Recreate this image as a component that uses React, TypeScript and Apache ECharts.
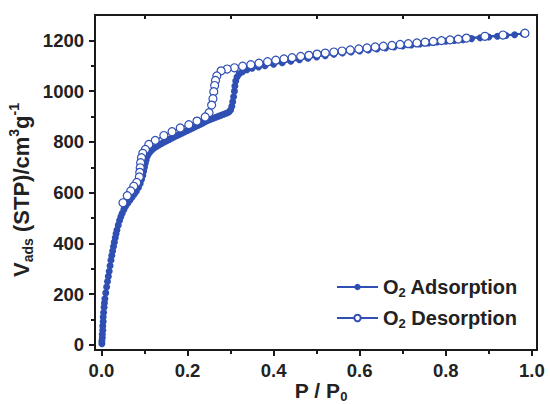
import React, { useEffect, useRef } from "react";
import * as echarts from "echarts";

const xTickLabels = [0, 0.2, 0.4, 0.6, 0.8, 1.0];
const xMinorTicks = [0.1, 0.3, 0.5, 0.7, 0.9];
const yTickLabels = [0, 200, 400, 600, 800, 1000, 1200];
const yMinorTicks = [100, 300, 500, 700, 900, 1100];

const adsorptionX = [
  0.001, 0.001, 0.002, 0.002, 0.003, 0.003, 0.004, 0.004, 0.005, 0.006, 0.007, 0.008,
  0.010, 0.012, 0.014, 0.016, 0.018, 0.020, 0.022, 0.024, 0.026, 0.028, 0.030, 0.032,
  0.034, 0.036, 0.039, 0.042, 0.045, 0.048, 0.052, 0.056, 0.061, 0.066, 0.071, 0.076,
  0.081, 0.086, 0.090, 0.093, 0.096, 0.098, 0.100, 0.102, 0.104, 0.107, 0.111, 0.116,
  0.122, 0.128, 0.134, 0.140, 0.146, 0.152, 0.158, 0.164, 0.170, 0.176, 0.182, 0.188,
  0.194, 0.200, 0.206, 0.212, 0.218, 0.224, 0.230, 0.236, 0.242, 0.248, 0.254, 0.260,
  0.266, 0.272, 0.278, 0.284, 0.290, 0.296, 0.300, 0.303, 0.305, 0.307, 0.309, 0.310,
  0.312, 0.315, 0.320, 0.328, 0.338, 0.350, 0.365, 0.380, 0.400, 0.420, 0.440, 0.460,
  0.480, 0.500, 0.520, 0.540, 0.560, 0.580, 0.600, 0.620, 0.640, 0.660, 0.680, 0.700,
  0.720, 0.740, 0.760, 0.780, 0.800, 0.820, 0.840, 0.860, 0.880, 0.900, 0.920, 0.940,
  0.960, 0.980,
];
const adsorptionY = [
  5, 15, 28, 42, 58, 75, 92, 110, 128, 148, 165, 182,
  205, 228, 250, 270, 290, 312, 334, 352, 370, 388, 405, 422,
  438, 453, 472, 490, 505, 518, 533, 546, 558, 570, 582, 594,
  606, 620, 636, 652, 668, 684, 700, 716, 730, 745, 756, 766,
  775, 782, 788, 794, 800, 805, 810, 815, 820, 825, 830, 835,
  840, 845, 850, 855, 860, 865, 870, 875, 880, 885, 889, 893,
  897, 901, 905, 909, 913, 918, 926, 940, 958, 978, 1000, 1020,
  1040, 1056, 1068, 1077, 1084, 1090, 1095, 1100, 1106, 1112, 1118, 1124,
  1130, 1135, 1140, 1145, 1150, 1154, 1158, 1162, 1166, 1170, 1174, 1178,
  1182, 1186, 1190, 1194, 1197, 1200, 1203, 1207, 1210, 1213, 1216, 1219,
  1222, 1226,
];

const desorptionX = [
  0.984, 0.933, 0.891, 0.848, 0.829, 0.810, 0.790, 0.771, 0.752, 0.733, 0.713, 0.694,
  0.675, 0.655, 0.636, 0.617, 0.598, 0.578, 0.559, 0.540, 0.520, 0.501, 0.482, 0.463,
  0.443, 0.424, 0.405, 0.386, 0.366, 0.347, 0.328, 0.309, 0.292, 0.278, 0.268, 0.265,
  0.263, 0.261, 0.259, 0.256, 0.250, 0.241, 0.222, 0.203, 0.183, 0.164, 0.145, 0.125,
  0.110, 0.102, 0.096, 0.093, 0.091, 0.090, 0.089, 0.088, 0.082, 0.075, 0.068, 0.060,
  0.050,
];
const desorptionY = [
  1228, 1221, 1216, 1209, 1205, 1202, 1199, 1196, 1193, 1190, 1187, 1184,
  1180, 1177, 1174, 1170, 1166, 1162, 1158, 1154, 1150, 1146, 1141, 1137,
  1132, 1127, 1122, 1116, 1110, 1104, 1098, 1092, 1087, 1080, 1060, 1042,
  1022, 998, 970, 945, 915, 898, 882, 868, 855, 840, 825, 806,
  790, 770, 755, 738, 718, 698, 680, 662, 640, 625, 607, 588,
  560,
];

const xTitle = "{b|P / P}{s|0}";
const yTitle = "{b|V}{s|ads}{b| (STP)/cm}{p|3}{b|g}{p|-1}";

const BLUE = "#2f4fb3";
const AXIS = "#1a1a1a";
const TXT = "#222";
const FONT = "'Liberation Sans', Arial, sans-serif";

export default function App() {
  const ref = useRef<HTMLDivElement>(null);
  useEffect(() => {
    if (!ref.current) return;
    const chart = echarts.init(ref.current, undefined, { renderer: "svg" });
    const ads = adsorptionX.map((x, i) => [x, adsorptionY[i]]);
    const des = desorptionX.map((x, i) => [x, desorptionY[i]]);
    const labelStyle = { fontFamily: FONT, fontWeight: "bold" as const, fontSize: 18.5, color: TXT };
    const xBase = { type: "value" as const, min: -0.015, max: 1.012, gridIndex: 0, splitLine: { show: false } };
    const yBase = { type: "value" as const, min: -20, max: 1300, gridIndex: 0, splitLine: { show: false } };
    const titleRich = {
      b: { fontFamily: FONT, fontWeight: "bold", fontSize: 22, fill: TXT, lineHeight: 28 },
      s: { fontFamily: FONT, fontWeight: "bold", fontSize: 14, fill: TXT, lineHeight: 11, verticalAlign: "bottom" },
      p: { fontFamily: FONT, fontWeight: "bold", fontSize: 14, fill: TXT, lineHeight: 11, verticalAlign: "top" },
    };
    chart.setOption({
      animation: false,
      backgroundColor: "#fff",
      grid: { left: 95, right: 13, top: 15, bottom: 54, show: true, borderColor: AXIS, borderWidth: 2, backgroundColor: "transparent", outerBoundsMode: "none" },
      graphic: [
        {
          type: "text",
          x: 21,
          y: 190,
          rotation: Math.PI / 2,
          style: { text: yTitle, align: "center", verticalAlign: "middle", rich: titleRich },
        },
        {
          type: "text",
          x: 321,
          y: 390,
          style: {
            text: xTitle,
            align: "center",
            verticalAlign: "middle",
            rich: {
              b: { fontFamily: FONT, fontWeight: "bold", fontSize: 21, fill: TXT, lineHeight: 26 },
              s: { fontFamily: FONT, fontWeight: "bold", fontSize: 13, fill: TXT, lineHeight: 10, verticalAlign: "bottom" },
            },
          },
        },
      ],
      xAxis: [
        {
          ...xBase,
          position: "bottom",
          axisLine: { show: true, onZero: false, lineStyle: { color: AXIS, width: 2 } },
          axisTick: { show: true, inside: false, length: 6, lineStyle: { color: AXIS, width: 2 }, customValues: xTickLabels },
          axisLabel: { ...labelStyle, margin: 11, customValues: xTickLabels, formatter: (v: number) => v.toFixed(1) },
        },
        {
          ...xBase,
          position: "bottom",
          axisLine: { show: false, onZero: false },
          axisTick: { show: true, inside: false, length: 4, lineStyle: { color: AXIS, width: 2 }, customValues: xMinorTicks },
          axisLabel: { show: false },
        },
        {
          ...xBase,
          position: "top",
          axisLine: { show: false, onZero: false },
          axisTick: { show: true, inside: true, length: 4, lineStyle: { color: AXIS, width: 2 }, customValues: xMinorTicks },
          axisLabel: { show: false },
        },
      ],
      yAxis: [
        {
          ...yBase,
          position: "left",
          axisLine: { show: true, onZero: false, lineStyle: { color: AXIS, width: 2 } },
          axisTick: { show: true, inside: false, length: 6, lineStyle: { color: AXIS, width: 2 }, customValues: yTickLabels },
          axisLabel: { ...labelStyle, margin: 11, customValues: yTickLabels, formatter: (v: number) => String(Math.round(v)) },
        },
        {
          ...yBase,
          position: "left",
          axisLine: { show: false, onZero: false },
          axisTick: { show: true, inside: false, length: 4, lineStyle: { color: AXIS, width: 2 }, customValues: yMinorTicks },
          axisLabel: { show: false },
        },
      ],
      legend: {
        orient: "vertical",
        left: 331,
        top: 272,
        itemWidth: 41,
        itemHeight: 8,
        itemGap: 9,
        data: ["O2 Adsorption", "O2 Desorption"],
        formatter: (name: string) => (name.startsWith("O2 A") ? "{b|O}{s|2}{b| Adsorption}" : "{b|O}{s|2}{b| Desorption}"),
        textStyle: {
          rich: {
            b: { fontFamily: FONT, fontWeight: "bold", fontSize: 20, color: TXT, lineHeight: 24 },
            s: { fontFamily: FONT, fontWeight: "bold", fontSize: 13, color: TXT, lineHeight: 9, verticalAlign: "bottom" },
          },
        },
      },
      series: [
        {
          name: "O2 Adsorption",
          type: "line",
          xAxisIndex: 0,
          yAxisIndex: 0,
          data: ads,
          symbol: "circle",
          symbolSize: 7,
          itemStyle: { color: BLUE },
          lineStyle: { color: BLUE, width: 1.5 },
          z: 2,
        },
        {
          name: "O2 Desorption",
          type: "line",
          xAxisIndex: 0,
          yAxisIndex: 0,
          data: des,
          symbol: "circle",
          symbolSize: 8,
          itemStyle: { color: "#fff", borderColor: BLUE, borderWidth: 1.2 },
          lineStyle: { color: BLUE, width: 1.5 },
          z: 3,
        },
      ],
    });
    return () => chart.dispose();
  }, []);
  return <div ref={ref} style={{ width: 550, height: 404, position: "absolute", left: 0, top: 0 }} />;
}
